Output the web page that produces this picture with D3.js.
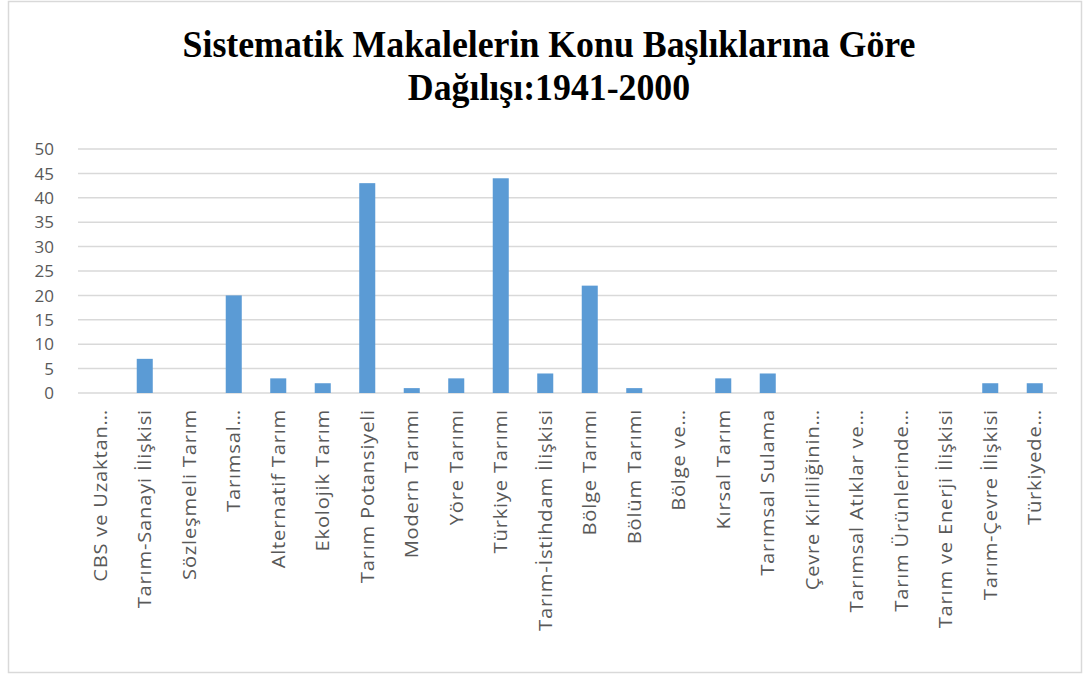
<!DOCTYPE html>
<html>
<head>
<meta charset="utf-8">
<script src="https://cdn.jsdelivr.net/npm/d3@7"></script>
<style>
  body { margin: 0; background: #fff; }
  svg { display: block; }
</style>
</head>
<body>
<div id="chart"></div>
<script>

// chart data
var titleLines = ["Sistematik Makalelerin Konu Başlıklarına Göre", "Dağılışı:1941-2000"];
var categories = [
	"CBS ve Uzaktan…", "Tarım-Sanayi İlişkisi", "Sözleşmeli Tarım", "Tarımsal…",
	"Alternatif Tarım", "Ekolojik Tarım", "Tarım Potansiyeli", "Modern Tarımı",
	"Yöre Tarımı", "Türkiye Tarımı", "Tarım-İstihdam İlişkisi", "Bölge Tarımı",
	"Bölüm Tarımı", "Bölge ve…", "Kırsal Tarım", "Tarımsal Sulama",
	"Çevre Kirliliğinin…", "Tarımsal Atıklar ve…", "Tarım Ürünlerinde…",
	"Tarım ve Enerji İlişkisi", "Tarım-Çevre İlişkisi", "Türkiyede…"
];
var counts = [0, 7, 0, 20, 3, 2, 43, 1, 3, 44, 4, 22, 1, 0, 3, 4, 0, 0, 0, 0, 2, 2];
var yTicks = [0, 5, 10, 15, 20, 25, 30, 35, 40, 45, 50];

var W = 1085, H = 675;
var stretch = 1.12; // the reference looks a bit stretched vertically

var svg = d3.select('#chart').append('svg')
			.attr('width', W)
			.attr('height', H);

svg.append('rect')
	.attr('x', 8.5).attr('y', 1.5)
	.attr('width', 1073).attr('height', 671)
	.attr('fill', '#fff')
	.attr('stroke', '#d9d9d9')
	.attr('stroke-width', 1.5);

// title
svg.selectAll('text.title')
	.data(titleLines)
	.enter()
	.append('text')
	.attr('class', 'title')
	.attr('text-anchor', 'middle')
	.attr('transform', function(d, i) {
		return 'translate(549,' + (57 + i * 43) + ') scale(1,1.05)';
	})
	.style('font-family', '"Liberation Serif", "Times New Roman", serif')
	.style('font-weight', 'bold')
	.style('font-size', '35.8px')
	.style('fill', '#000')
	.text(function(d) { return d; });

var plot = { left: 78, right: 1057, top: 149, bottom: 393 };

var x = d3.scaleBand()
			.domain(categories)
			.range([plot.left, plot.right])
			.paddingInner(0.64)
			.paddingOuter(0.32);

var y = d3.scaleLinear()
			.domain([0, 50])
			.range([plot.bottom, plot.top]);

// gridlines
svg.append('g')
	.selectAll('line')
	.data(yTicks)
	.enter()
	.append('line')
	.attr('x1', plot.left)
	.attr('x2', plot.right)
	.attr('y1', function(d) { return y(d); })
	.attr('y2', function(d) { return y(d); })
	.attr('stroke', '#d9d9d9')
	.attr('stroke-width', 1.5);

// y tick labels
svg.append('g')
	.selectAll('text')
	.data(yTicks)
	.enter()
	.append('text')
	.attr('text-anchor', 'end')
	.attr('x', 54)
	.attr('y', function(d) { return y(d); })
	.attr('dy', '0.36em')
	.style('font-family', '"Open Sans", sans-serif')
	.style('font-size', '17px')
	.style('fill', '#595959')
	.text(function(d) { return d; });

// bars
svg.append('g')
	.selectAll('rect')
	.data(counts)
	.enter()
	.append('rect')
	.attr('x', function(d, i) { return x(categories[i]); })
	.attr('width', x.bandwidth())
	.attr('y', function(d) { return y(d); })
	.attr('height', function(d) { return y(0) - y(d); })
	.attr('fill', '#5b9bd5');

// category labels, rotated
svg.append('g')
	.selectAll('text')
	.data(categories)
	.enter()
	.append('text')
	.attr('text-anchor', 'end')
	.attr('transform', function(d) {
		var cx = x(d) + x.bandwidth() / 2;
		return 'translate(' + cx + ',' + (plot.bottom + 16) + ') scale(1,' + stretch + ') rotate(-90)';
	})
	.attr('dy', '0.36em')
	.style('font-family', '"Open Sans", sans-serif')
	.style('font-size', '18px')
	.style('letter-spacing', '0.7px')
	.style('fill', '#595959')
	.text(function(d) { return d; });

</script>
</body>
</html>
